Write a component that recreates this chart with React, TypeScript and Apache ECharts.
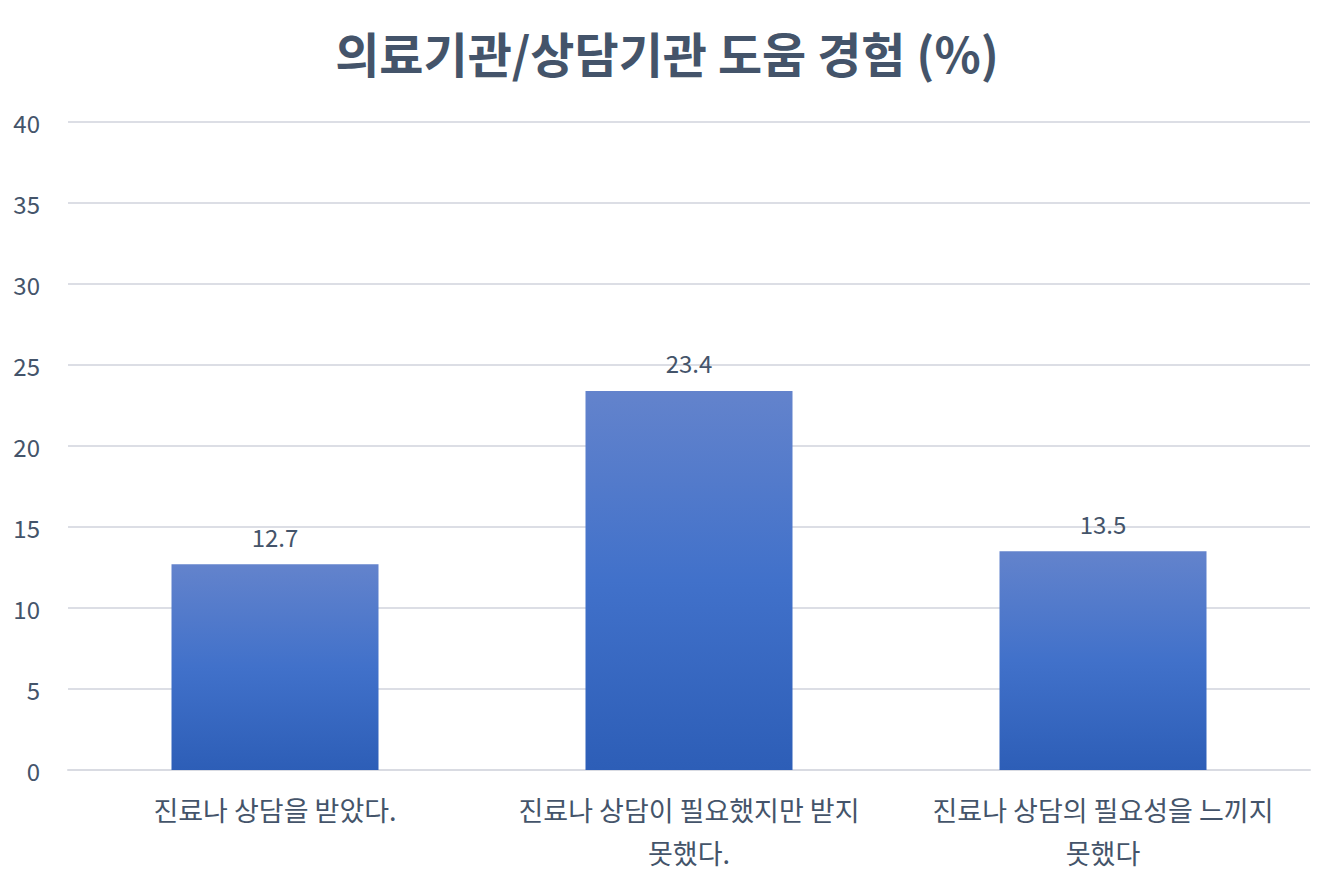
import React, { useEffect, useRef } from "react";
import * as echarts from "echarts";

const titleText = "의료기관/상담기관 도움 경험 (%)";
const categories = [
  "진료나 상담을 받았다.",
  "진료나 상담이 필요했지만 받지\n못했다.",
  "진료나 상담의 필요성을 느끼지\n못했다",
];
const values = [12.7, 23.4, 13.5];
const yTicks = [0, 5, 10, 15, 20, 25, 30, 35, 40];

const FONT = "'Noto Sans CJK KR', 'Noto Sans', sans-serif";
const TEXT = "#44546A";

export default function App() {
  const ref = useRef<HTMLDivElement>(null);
  useEffect(() => {
    if (!ref.current) return;
    const chart = echarts.init(ref.current, undefined, { renderer: "svg" });
    chart.setOption({
      animation: false,
      backgroundColor: "#FFFFFF",
      textStyle: { fontFamily: FONT },
      title: {
        text: titleText,
        left: "center",
        top: 23,
        textStyle: { fontSize: 48, fontWeight: "bold", color: TEXT, fontFamily: FONT },
      },
      grid: { left: 68, right: 24, top: 122, bottom: 119, containLabel: false },
      xAxis: {
        type: "category",
        data: categories,
        axisTick: { show: false },
        axisLine: { show: true, lineStyle: { color: "#D9DBE2", width: 2 } },
        axisLabel: {
          color: TEXT,
          fontSize: 27,
          lineHeight: 43,
          margin: 18,
          interval: 0,
          fontFamily: FONT,
        },
      },
      yAxis: {
        type: "value",
        min: yTicks[0],
        max: yTicks[yTicks.length - 1],
        interval: 5,
        axisLine: { show: false },
        axisTick: { show: false },
        splitLine: { lineStyle: { color: "#DCDEE5", width: 2 } },
        axisLabel: { color: TEXT, fontSize: 24, margin: 28, fontFamily: FONT },
      },
      series: [
        {
          type: "bar",
          data: values,
          barWidth: "50%",
          itemStyle: {
            color: new echarts.graphic.LinearGradient(0, 0, 0, 1, [
              { offset: 0, color: "#6383CC" },
              { offset: 0.5, color: "#4171CA" },
              { offset: 1, color: "#2D5EB7" },
            ]),
          },
          label: {
            show: true,
            position: "top",
            distance: 16,
            color: TEXT,
            fontSize: 24,
            fontFamily: FONT,
          },
        },
      ],
    });
    return () => chart.dispose();
  }, []);
  return (
    <div
      ref={ref}
      style={{ position: "fixed", left: 0, top: 0, width: 1334, height: 889 }}
    />
  );
}
